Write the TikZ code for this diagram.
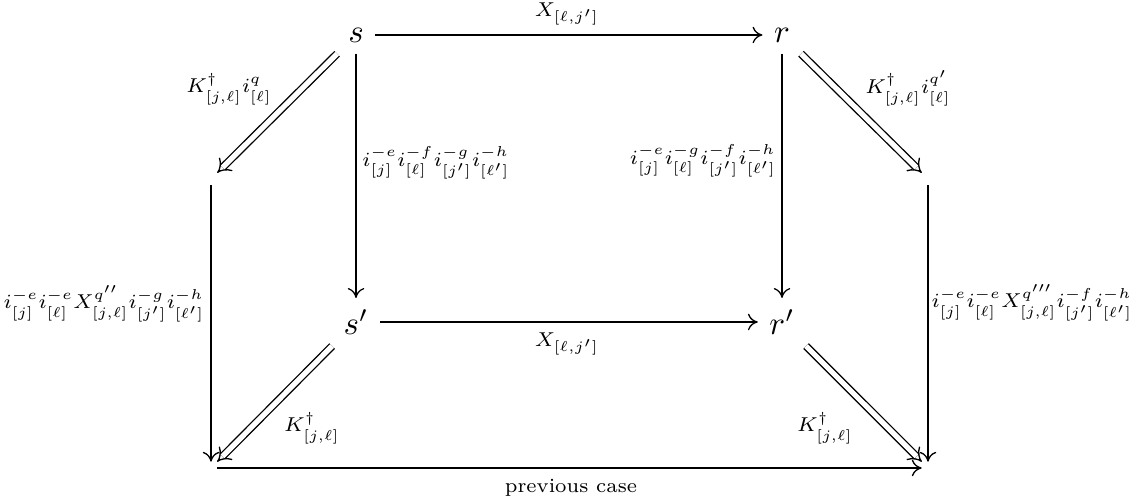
\documentclass[tikz,border=0pt]{standalone}
\usetikzlibrary{arrows.meta}
\begin{document}
\begin{tikzpicture}[x=0.303pt,y=-0.303pt,
  obj/.style={inner sep=3.33pt},
  emptyobj/.style={inner sep=0pt, minimum size=3.4pt},
  lbl/.style={font=\scriptsize, inner sep=0pt, scale=0.87},
  sarrow/.style={-{To[length=3pt,width=5pt]}, line width=0.4pt},
  darrow/.style={double, double distance=1.6pt, line width=0.4pt, -{Implies}}]
\useasboundingbox (0,0) rectangle (1144,502);
\node[obj] (s) at (356,35) {$s$};
\node[obj] (r) at (782,35) {$r$};
\node[obj] (sp) at (356,322) {$s'$};
\node[obj] (rp) at (782,322) {$r'$};
\node[emptyobj] (lm) at (211,179) {};
\node[emptyobj] (rm) at (928,179) {};
\node[emptyobj] (lb) at (211,468) {};
\node[emptyobj] (rb) at (928,468) {};
\draw[sarrow] (s) -- (r);
\draw[sarrow] (sp) -- (rp);
\draw[sarrow] (s) -- (sp);
\draw[sarrow] (r) -- (rp);
\draw[sarrow] (lm) -- (lb);
\draw[sarrow] (rm) -- (rb);
\draw[sarrow] (lb) -- (rb);
\draw[darrow] (s) -- (lm);
\draw[darrow] (r) -- (rm);
\draw[darrow] (sp) -- (lb);
\draw[darrow] (rp) -- (rb);
\node[lbl] (l1) at (567,14) {$X_{[\ell,j']}$};
\node[lbl] (l2) at (567,344) {$X_{[\ell,j']}$};
\node[lbl] (l3) at (229,89) {$K^\dagger_{[j,\ell]}i^{q}_{[\ell]}$};
\node[lbl] (l4) at (908,88) {$K^\dagger_{[j,\ell]}i^{q'}_{[\ell]}$};
\node[lbl] (l5) at (436,163) {$i^{-e}_{[j]}i^{-f}_{[\ell]}i^{-g}_{[j']}i^{-h}_{[\ell']}$};
\node[lbl] (l6) at (703,161) {$i^{-e}_{[j]}i^{-g}_{[\ell]}i^{-f}_{[j']}i^{-h}_{[\ell']}$};
\node[lbl] (l7) at (104,304) {$i^{-e}_{[j]}i^{-e}_{[\ell]}X^{q''}_{[j,\ell]}i^{-g}_{[j']}i^{-h}_{[\ell']}$};
\node[lbl] (l8) at (1032,303) {$i^{-e}_{[j]}i^{-e}_{[\ell]}X^{q'''}_{[j,\ell]}i^{-f}_{[j']}i^{-h}_{[\ell']}$};
\node[lbl] (l9) at (312,428) {$K^\dagger_{[j,\ell]}$};
\node[lbl] (l10) at (825,428) {$K^\dagger_{[j,\ell]}$};
\node[lbl] (l11) at (571,488) {previous case};
\end{tikzpicture}
\end{document}
